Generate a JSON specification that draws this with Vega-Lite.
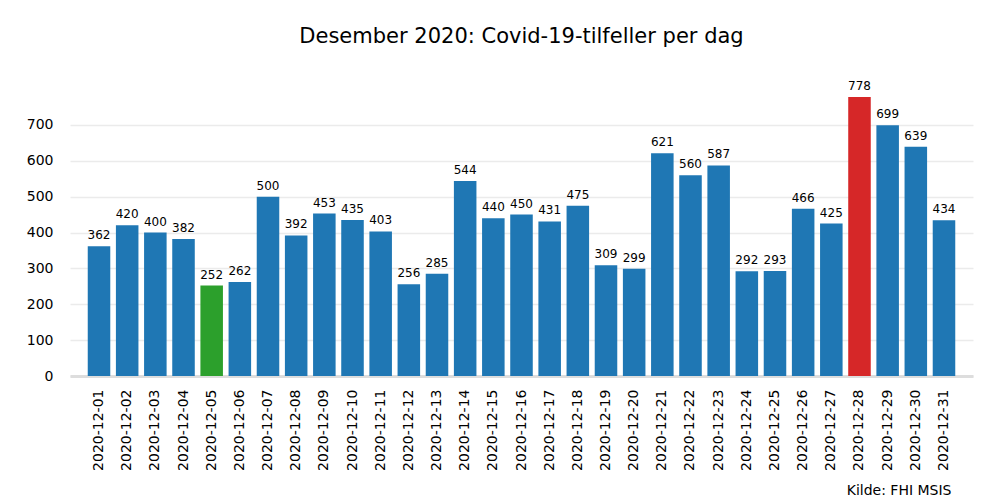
{
  "$schema": "https://vega.github.io/schema/vega-lite/v6.json",
  "width": 903,
  "height": 293,
  "autosize": {"type": "none"},
  "padding": {"left": 70, "top": 83, "right": 27, "bottom": 124},
  "background": "white",
  "config": {
    "font": "DejaVu Sans",
    "view": {"stroke": null}
  },
  "title": {
    "text": "Desember 2020: Covid-19-tilfeller per dag",
    "fontSize": 21,
    "fontWeight": "normal",
    "font": "DejaVu Sans",
    "color": "#000000",
    "anchor": "middle",
    "offset": 33
  },
  "data": {
    "values": [
      {"dato": "2020-12-01", "tilfeller": 362, "type": "vanlig"},
      {"dato": "2020-12-02", "tilfeller": 420, "type": "vanlig"},
      {"dato": "2020-12-03", "tilfeller": 400, "type": "vanlig"},
      {"dato": "2020-12-04", "tilfeller": 382, "type": "vanlig"},
      {"dato": "2020-12-05", "tilfeller": 252, "type": "lavest"},
      {"dato": "2020-12-06", "tilfeller": 262, "type": "vanlig"},
      {"dato": "2020-12-07", "tilfeller": 500, "type": "vanlig"},
      {"dato": "2020-12-08", "tilfeller": 392, "type": "vanlig"},
      {"dato": "2020-12-09", "tilfeller": 453, "type": "vanlig"},
      {"dato": "2020-12-10", "tilfeller": 435, "type": "vanlig"},
      {"dato": "2020-12-11", "tilfeller": 403, "type": "vanlig"},
      {"dato": "2020-12-12", "tilfeller": 256, "type": "vanlig"},
      {"dato": "2020-12-13", "tilfeller": 285, "type": "vanlig"},
      {"dato": "2020-12-14", "tilfeller": 544, "type": "vanlig"},
      {"dato": "2020-12-15", "tilfeller": 440, "type": "vanlig"},
      {"dato": "2020-12-16", "tilfeller": 450, "type": "vanlig"},
      {"dato": "2020-12-17", "tilfeller": 431, "type": "vanlig"},
      {"dato": "2020-12-18", "tilfeller": 475, "type": "vanlig"},
      {"dato": "2020-12-19", "tilfeller": 309, "type": "vanlig"},
      {"dato": "2020-12-20", "tilfeller": 299, "type": "vanlig"},
      {"dato": "2020-12-21", "tilfeller": 621, "type": "vanlig"},
      {"dato": "2020-12-22", "tilfeller": 560, "type": "vanlig"},
      {"dato": "2020-12-23", "tilfeller": 587, "type": "vanlig"},
      {"dato": "2020-12-24", "tilfeller": 292, "type": "vanlig"},
      {"dato": "2020-12-25", "tilfeller": 293, "type": "vanlig"},
      {"dato": "2020-12-26", "tilfeller": 466, "type": "vanlig"},
      {"dato": "2020-12-27", "tilfeller": 425, "type": "vanlig"},
      {"dato": "2020-12-28", "tilfeller": 778, "type": "høyest"},
      {"dato": "2020-12-29", "tilfeller": 699, "type": "vanlig"},
      {"dato": "2020-12-30", "tilfeller": 639, "type": "vanlig"},
      {"dato": "2020-12-31", "tilfeller": 434, "type": "vanlig"}
    ]
  },
  "encoding": {
    "x": {
      "field": "dato",
      "type": "nominal",
      "sort": null,
      "scale": {"paddingInner": 0.2, "paddingOuter": 0.63},
      "axis": {
        "title": "Kilde: FHI MSIS",
        "titleFont": "DejaVu Sans",
        "titleFontSize": 14,
        "titleFontWeight": "normal",
        "titleColor": "#000000",
        "titleX": 881,
        "titleY": 118,
        "titleAlign": "right",
        "titleBaseline": "alphabetic",
        "labelAngle": -90,
        "labelFontSize": 14,
        "labelColor": "#000000",
        "labelPadding": 13,
        "ticks": false,
        "domainColor": "#dddddd",
        "domainWidth": 3,
        "grid": false
      }
    },
    "y": {
      "field": "tilfeller",
      "type": "quantitative",
      "scale": {"domain": [0, 816.9], "nice": false},
      "axis": {
        "title": null,
        "values": [0, 100, 200, 300, 400, 500, 600, 700],
        "labelFontSize": 14,
        "labelColor": "#000000",
        "labelPadding": 17,
        "ticks": false,
        "domain": false,
        "grid": true,
        "gridColor": "#ebebeb",
        "gridWidth": 1.5
      }
    }
  },
  "layer": [
    {
      "mark": {"type": "bar"},
      "encoding": {
        "color": {
          "field": "type",
          "type": "nominal",
          "scale": {
            "domain": ["vanlig", "lavest", "høyest"],
            "range": ["#1f77b4", "#2ca02c", "#d62728"]
          },
          "legend": null
        }
      }
    },
    {
      "mark": {"type": "text", "dy": -11, "fontSize": 12, "color": "#000000", "font": "DejaVu Sans"},
      "encoding": {
        "text": {"field": "tilfeller", "type": "quantitative"}
      }
    }
  ]
}
